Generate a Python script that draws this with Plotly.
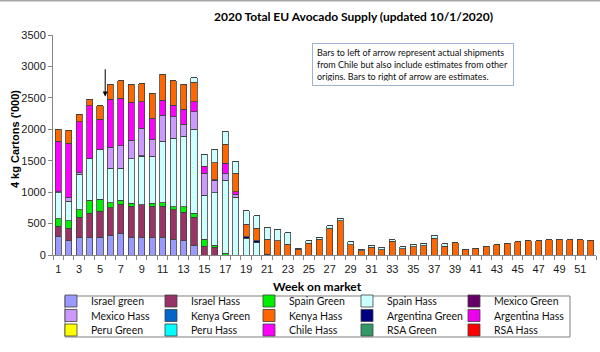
import plotly.graph_objects as go

weeks = list(range(1, 53))

def pad(vals):
    return vals + [0] * (52 - len(vals))

israel_green = pad([300, 228, 286, 286, 286, 318, 345, 276, 276, 276, 286, 249, 228, 154])
israel_hass = pad([160, 196, 318, 376, 414, 435, 466, 503, 524, 503, 493, 467, 450, 445, 143, 122])
spain_green = pad([120, 117, 112, 213, 190, 79, 64, 42, 0, 42, 53, 52, 90, 63, 111, 37, 26])
spain_hass = pad([410, 318, 566, 662, 790, 546, 503, 711, 764, 753, 981, 1087, 1124, 1336,
                  700, 830, 1167, 917, 270, 196])
mexico_green = pad([0, 0, 0, 0, 0, 0, 0, 0, 12])
mexico_hass = pad([20, 58, 32, 0, 0, 334, 360, 291, 439, 265, 413, 344, 191, 281, 345, 191, 105, 53])
chile_hass = pad([800, 859, 806, 837, 477, 763, 753, 605, 425, 334, 239, 181, 238, 159, 116, 0, 159, 37])
argentina_green = pad([0] * 15 + [15, 0, 0, 20, 27, 12])
kenya_hass = [190, 212, 122, 101, 217, 244, 281, 286, 286, 403, 408, 392, 398, 313, 0, 275,
              308, 291, 200, 201, 240, 223, 170, 90, 186, 249, 424, 541, 164, 64, 127, 80,
              217, 101, 132, 148, 270, 143, 191, 85, 106, 138, 164, 186, 207, 223, 228, 239,
              249, 239, 239, 233]
spain_hass_est = pad([0] * 13 + [69, 186, 212, 207, 197, 212, 201, 186, 175, 185, 21, 37, 32,
                                 42, 42, 43, 31, 27, 42, 22, 31, 38, 38, 43, 38])
kenya_green = [0] * 52
argentina_hass = [0] * 52
peru_green = [0] * 52
peru_hass = [0] * 52
rsa_green = [0] * 52
rsa_hass = [0] * 52

# (name, values, colour, legend row, legend column, rank, show in legend)
stack = [
    ("Israel green", israel_green, "#9999FF", "legend", 0, 1, True),
    ("Israel Hass", israel_hass, "#993366", "legend", 1, 2, True),
    ("Spain Green", spain_green, "#00EE00", "legend", 2, 3, True),
    ("Spain Hass", spain_hass, "#CCFFFF", "legend", 3, 4, True),
    ("Mexico Green", mexico_green, "#660066", "legend", 4, 5, True),
    ("Mexico Hass", mexico_hass, "#CC99FF", "legend2", 0, 6, True),
    ("Chile Hass", chile_hass, "#FF00FF", "legend3", 2, 13, True),
    ("Argentina Green", argentina_green, "#000080", "legend2", 3, 9, True),
    ("Kenya Hass", kenya_hass, "#FF6600", "legend2", 2, 8, True),
    ("Spain Hass (est.)", spain_hass_est, "#CCFFFF", "legend", 3, 99, False),
    ("Kenya Green", kenya_green, "#0066CC", "legend2", 1, 7, True),
    ("Argentina Hass", argentina_hass, "#EE00EE", "legend2", 4, 10, True),
    ("Peru Green", peru_green, "#FFFF00", "legend3", 0, 11, True),
    ("Peru Hass", peru_hass, "#00FFFF", "legend3", 1, 12, True),
    ("RSA Green", rsa_green, "#339966", "legend3", 3, 14, True),
    ("RSA Hass", rsa_hass, "#FF0000", "legend3", 4, 15, True),
]
col_widths = [55, 53, 53, 62, 90]

fig = go.Figure()
for name, vals, col, leg, column, rank, show in stack:
    fig.add_trace(go.Bar(
        x=weeks, y=vals, name=name, marker_color=col,
        marker_line=dict(color="#404040", width=0.8),
        legend=leg, legendrank=rank, showlegend=show,
        legendwidth=col_widths[column],
        legendgroup="Spain Hass" if name.startswith("Spain Hass") else name,
    ))

title_text = "2020 Total EU Avocado Supply (updated 10/1/2020)"
note_text = ("Bars to left of arrow represent actual shipments<br>"
             "from Chile but also include estimates from other<br>"
             "origins. Bars to right of arrow are estimates.")
tick_weeks = list(range(1, 53, 2))

def legend_row(ytop):
    return dict(
        orientation="h", x=-0.0037, y=ytop, xanchor="left", yanchor="top",
        bgcolor="rgba(0,0,0,0)", borderwidth=0,
        font=dict(family="Lato", size=10.5, color="#111"),
        traceorder="normal", itemclick=False, itemdoubleclick=False,
    )

fig.update_layout(
    width=600, height=352,
    margin=dict(l=53, r=4, t=35, b=97, autoexpand=False),
    paper_bgcolor="white", plot_bgcolor="white",
    barmode="stack", bargap=0.42,
    font=dict(family="Liberation Sans, Arial", size=11, color="#1a1a1a"),
    showlegend=True,
    legend=legend_row(-0.1432),
    legend2=legend_row(-0.2091),
    legend3=legend_row(-0.275),
    xaxis=dict(
        range=[0.5, 52.5], tickvals=tick_weeks, ticktext=[str(w) for w in tick_weeks],
        ticks="outside", ticklen=4, tickcolor="rgba(0,0,0,0)",
        showline=True, linecolor="#868686", linewidth=1,
        showgrid=False, zeroline=False,
        minor=dict(ticks="outside", ticklen=4, tick0=0.5, dtick=1, tickcolor="#868686",
                   showgrid=False),
        tickfont=dict(size=11),
    ),
    yaxis=dict(
        range=[0, 3500], tickvals=list(range(0, 3501, 500)),
        ticks="outside", ticklen=4, tickcolor="#868686",
        showline=True, linecolor="#868686", linewidth=1,
        showgrid=False, zeroline=False, tickfont=dict(size=11),
    ),
    annotations=[
        dict(text="<b>" + title_text + "</b>", x=0.554, y=1.082, xref="paper", yref="paper",
             xanchor="center", yanchor="middle",
             showarrow=False, font=dict(family="Lato", size=12, color="#000")),
        dict(text="<b>4 kg Cartons ('000)</b>", x=-0.07, y=0.527, xref="paper", yref="paper",
             xanchor="center", yanchor="middle",
             textangle=-90, showarrow=False, font=dict(size=11, color="#000")),
        dict(text="<b>Week on market</b>", x=0.488, y=-0.145, xref="paper", yref="paper",
             xanchor="center", yanchor="middle",
             showarrow=False, font=dict(family="Lato", size=12, color="#000")),
        dict(text=note_text, x=0.6635, y=0.868, xref="paper", yref="paper", showarrow=False,
             xanchor="center", yanchor="middle",
             align="left", width=192, height=33, borderpad=4, bordercolor="#9db3cf",
             borderwidth=1, bgcolor="white", font=dict(family="Lato", size=9, color="#111")),
        dict(text="", x=5.5, y=2520, ax=5.5, ay=2980, xref="x", yref="y", axref="x", ayref="y",
             showarrow=True, arrowhead=2, arrowsize=1, arrowwidth=1, arrowcolor="#000"),
    ],
    shapes=[
        dict(type="line", xref="paper", yref="paper", x0=-0.1, x1=1.01, y0=1.157, y1=1.157,
             line=dict(color="#a6a6a6", width=2)),
        dict(type="rect", xref="paper", yref="paper", x0=0.0221, x1=0.9521,
             y0=-0.1864, y1=-0.3727, line=dict(color="#7f7f7f", width=1),
             fillcolor="rgba(0,0,0,0)"),
    ],
)

fig.write_html("out.html")
